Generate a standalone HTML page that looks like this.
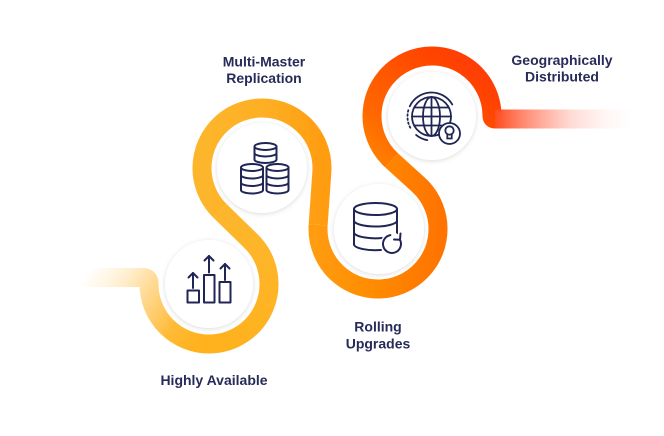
<!DOCTYPE html>
<html>
<head>
<meta charset="utf-8">
<style>
  html,body{margin:0;padding:0;background:#ffffff;}
  body{width:664px;height:436px;overflow:hidden;}
  svg{display:block;}
  .lbl{font-family:"Liberation Sans",Arial,sans-serif;font-weight:700;font-size:14px;fill:#272b58;text-anchor:middle;}
</style>
</head>
<body>
<svg width="664" height="436" viewBox="0 0 664 436" xmlns="http://www.w3.org/2000/svg">
  <defs>
    <filter id="sh" x="-30%" y="-30%" width="160%" height="160%">
      <feDropShadow dx="0" dy="1" stdDeviation="2.5" flood-color="#000" flood-opacity="0.14"/>
    </filter>
    <linearGradient id="g0" gradientUnits="userSpaceOnUse" x1="88" y1="272" x2="195" y2="345">
      <stop offset="0" stop-color="#ffc24a" stop-opacity="0"/>
      <stop offset="0.25" stop-color="#ffc04a" stop-opacity="0.25"/>
      <stop offset="0.5" stop-color="#ffbb3a" stop-opacity="0.6"/>
      <stop offset="0.78" stop-color="#ffb526" stop-opacity="0.92"/>
      <stop offset="1" stop-color="#ffb21e" stop-opacity="1"/>
    </linearGradient>
    <linearGradient id="g1" gradientUnits="userSpaceOnUse" x1="209" y1="344" x2="230" y2="215">
      <stop offset="0" stop-color="#ffb21e"/>
      <stop offset="1" stop-color="#fdb62c"/>
    </linearGradient>
    <linearGradient id="g2" gradientUnits="userSpaceOnUse" x1="200" y1="0" x2="325" y2="0">
      <stop offset="0" stop-color="#fdb62c"/>
      <stop offset="0.55" stop-color="#feae22"/>
      <stop offset="1" stop-color="#ff9c10"/>
    </linearGradient>
    <linearGradient id="g3" gradientUnits="userSpaceOnUse" x1="315" y1="0" x2="440" y2="0">
      <stop offset="0" stop-color="#ff9c10"/>
      <stop offset="0.5" stop-color="#ff8a00"/>
      <stop offset="0.8" stop-color="#ff7c00"/>
      <stop offset="1" stop-color="#ff7400"/>
    </linearGradient>
    <linearGradient id="g4" gradientUnits="userSpaceOnUse" x1="390" y1="165" x2="480" y2="60">
      <stop offset="0" stop-color="#ff7c00"/>
      <stop offset="0.2" stop-color="#ff6800"/>
      <stop offset="0.8" stop-color="#ff4400"/>
      <stop offset="1" stop-color="#ff3c08"/>
    </linearGradient>
    <linearGradient id="g5" gradientUnits="userSpaceOnUse" x1="494" y1="0" x2="632" y2="0">
      <stop offset="0" stop-color="#ff4a1c" stop-opacity="1"/>
      <stop offset="0.25" stop-color="#ff5a36" stop-opacity="0.65"/>
      <stop offset="0.55" stop-color="#ff6a50" stop-opacity="0.25"/>
      <stop offset="0.8" stop-color="#ff7a60" stop-opacity="0.07"/>
      <stop offset="1" stop-color="#ff7a60" stop-opacity="0"/>
    </linearGradient>
  </defs>

  <rect width="664" height="436" fill="#ffffff"/>

  <!-- track -->
  <g fill="none" stroke-width="19" stroke-linecap="butt">
    <path d="M78 277.5 L143 277.5 Q149 277.5 149 283.5 L149 284 A60 60 0 0 0 209 344" stroke="url(#g0)"/>
    <path d="M209 344 A60 60 0 0 0 250.93 241.09 L220.07 210.91" stroke="url(#g1)"/>
    <path d="M220.07 210.91 A60 60 0 1 1 321.85 172.22 L318.15 224.78" stroke="url(#g2)"/>
    <path d="M318.15 224.78 A60 60 0 1 0 418.28 184.53 L391.72 160.47" stroke="url(#g3)"/>
    <path d="M391.72 160.47 A60 60 0 1 1 492 116 Q492 119 495 119" stroke="url(#g4)"/>
    <path d="M495 119 L640 119" stroke="url(#g5)"/>
  </g>

  <!-- white circles -->
  <g fill="#ffffff" filter="url(#sh)">
    <circle cx="209" cy="284" r="44"/>
    <circle cx="262" cy="168" r="45"/>
    <circle cx="379" cy="229" r="45"/>
    <circle cx="432" cy="116" r="44"/>
  </g>

  <!-- icon 1: bars with arrows -->
  <g fill="none" stroke="#1f2555" stroke-width="2" stroke-linecap="round" stroke-linejoin="round">
    <rect x="187.5" y="290.5" width="11.5" height="12"/>
    <rect x="204" y="275" width="10.5" height="27.5"/>
    <rect x="219.5" y="282" width="11" height="20.5"/>
    <line x1="193" y1="288" x2="193" y2="273"/>
    <polyline points="188.5,277.5 193,273 197.5,277.5"/>
    <line x1="209" y1="272.5" x2="209" y2="256"/>
    <polyline points="204.5,260.5 209,256 213.5,260.5"/>
    <line x1="225" y1="280" x2="225" y2="264"/>
    <polyline points="220.5,268.5 225,264 229.5,268.5"/>
  </g>

  <!-- icon 2: database stacks -->
  <g stroke="#1f2555" stroke-width="2" stroke-linecap="round" fill="none">
    <!-- top stack -->
    <path d="M254.5 146.5 L254.5 159.5 A11 3.5 0 0 0 276.5 159.5 L276.5 146.5 Z" fill="#fff" stroke="none"/>
    <ellipse cx="265.5" cy="146.5" rx="11" ry="3.5" fill="#fff"/>
    <path d="M254.5 146.5 L254.5 159.5 M276.5 146.5 L276.5 159.5"/>
    <path d="M254.5 153 A11 3.5 0 0 0 276.5 153"/>
    <path d="M254.5 159.5 A11 3.5 0 0 0 276.5 159.5"/>
    <!-- bottom-left stack -->
    <path d="M241 167.5 L241 190 A11 3.5 0 0 0 263 190 L263 167.5 Z" fill="#fff" stroke="none"/>
    <ellipse cx="252" cy="167.5" rx="11" ry="3.5" fill="#fff"/>
    <path d="M241 167.5 L241 190 M263 167.5 L263 190"/>
    <path d="M241 175 A11 3.5 0 0 0 263 175"/>
    <path d="M241 182.5 A11 3.5 0 0 0 263 182.5"/>
    <path d="M241 190 A11 3.5 0 0 0 263 190"/>
    <!-- bottom-right stack -->
    <path d="M266.5 167.5 L266.5 190 A11 3.5 0 0 0 288.5 190 L288.5 167.5 Z" fill="#fff" stroke="none"/>
    <ellipse cx="277.5" cy="167.5" rx="11" ry="3.5" fill="#fff"/>
    <path d="M266.5 167.5 L266.5 190 M288.5 167.5 L288.5 190"/>
    <path d="M266.5 175 A11 3.5 0 0 0 288.5 175"/>
    <path d="M266.5 182.5 A11 3.5 0 0 0 288.5 182.5"/>
    <path d="M266.5 190 A11 3.5 0 0 0 288.5 190"/>
  </g>

  <!-- icon 3: database with refresh -->
  <g stroke="#1f2555" stroke-width="2" stroke-linecap="round" stroke-linejoin="round" fill="none">
    <ellipse cx="375.5" cy="209" rx="21.5" ry="6"/>
    <path d="M354 209 L354 244.5 M397 209 L397 236"/>
    <path d="M354 220.5 A21.5 6 0 0 0 397 220.5"/>
    <path d="M354 232.5 A21.5 6 0 0 0 386 237.5"/>
    <path d="M354 244.5 A21.5 6 0 0 0 381 250"/>
    <circle cx="392" cy="244" r="11.5" fill="#fff" stroke="none"/>
    <path d="M390.4 235.1 A9 9 0 1 0 399.8 239.5"/>
    <polyline points="400.5,233.5 400,239.8 394,239.5"/>
  </g>

  <!-- icon 4: globe with bulb -->
  <g stroke="#1f2555" stroke-width="1.8" stroke-linecap="round" fill="none">
    <circle cx="431.5" cy="116.5" r="19.5"/>
    <ellipse cx="431.5" cy="116.5" rx="8.5" ry="19.5"/>
    <line x1="431.5" y1="97" x2="431.5" y2="136"/>
    <line x1="412" y1="116.5" x2="451" y2="116.5"/>
    <line x1="414.2" y1="107.5" x2="448.8" y2="107.5"/>
    <line x1="414.2" y1="125.5" x2="448.8" y2="125.5"/>
    <path d="M409.75 106.36 A24 24 0 0 1 452.28 104.5"/>
    <path d="M408.3 110.3 A24 24 0 0 0 410.7 128.5" stroke-dasharray="1.5 2.6"/>
    <path d="M416.1 134.9 A24 24 0 0 0 427.3 140.1"/>
    <circle cx="449.5" cy="133.5" r="10.5" fill="#fff"/>
    <circle cx="449.5" cy="130.5" r="4.2"/>
    <path d="M447.3 134.2 L447.3 138.5 L451.7 138.5 L451.7 134.2"/>
  </g>

  <!-- labels -->
  <text class="lbl" x="264" y="66.5">Multi-Master</text>
  <text class="lbl" x="264" y="83">Replication</text>
  <text class="lbl" x="378" y="331.5">Rolling</text>
  <text class="lbl" x="378" y="348.5">Upgrades</text>
  <text class="lbl" x="562" y="65">Geographically</text>
  <text class="lbl" x="562" y="81.5">Distributed</text>
  <text class="lbl" x="214" y="385">Highly Available</text>
</svg>
</body>
</html>
